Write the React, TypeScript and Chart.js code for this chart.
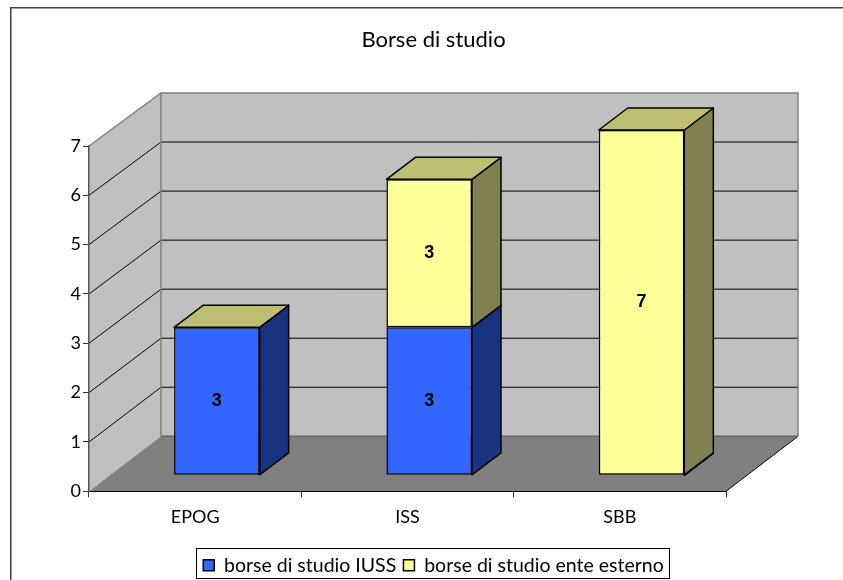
import React, { useEffect, useRef } from "react";
import { Chart, registerables } from "chart.js";

Chart.register(...registerables);

const chartTitle = "Borse di studio";
const categories = ["EPOG", "ISS", "SBB"];
const iussLabel = "borse di studio IUSS";
const esternoLabel = "borse di studio ente esterno";
const iussValues = [3, 3, 0];
const esternoValues = [0, 3, 7];

const FONT = "Lato, 'Noto Sans', sans-serif";
const WALL_DX = 72;
const WALL_DY = -55;
const WALL_SHRINK = 0.9942;
const BAR_SHIFT_X = 21.7;
const BAR_SHIFT_Y = -16;
const BAR_DX = 29;
const BAR_DY = -22;

const faces = [
  { front: "#3366FF", side: "#1A3380", top: "#264DBF" },
  { front: "#FFFF99", side: "#808050", top: "#BFBF73" },
];

function poly(ctx: CanvasRenderingContext2D, pts: number[][], fill: string | null, stroke: string | null, lw = 1) {
  ctx.beginPath();
  pts.forEach((p, i) => (i ? ctx.lineTo(p[0], p[1]) : ctx.moveTo(p[0], p[1])));
  if (fill) {
    ctx.closePath();
    ctx.fillStyle = fill;
    ctx.fill();
  }
  if (stroke) {
    ctx.strokeStyle = stroke;
    ctx.lineWidth = lw;
    ctx.stroke();
  }
}

const scene3d = {
  id: "scene3d",
  beforeDraw(chart: any) {
    const { ctx, chartArea: a, scales } = chart;
    const backY = (y: number) => a.bottom + WALL_DY + (y - a.bottom) * WALL_SHRINK;
    ctx.save();
    ctx.fillStyle = "#ffffff";
    ctx.fillRect(0, 0, chart.width, chart.height);
    // outer frame
    poly(ctx, [[10.75, chart.height], [10.75, 7.75], [chart.width, 7.75]], null, "#404040", 1.5);
    const bl = a.left + WALL_DX;
    const br = a.right + WALL_DX;
    // back wall
    poly(ctx, [[bl, backY(a.top)], [br, backY(a.top)], [br, backY(a.bottom)], [bl, backY(a.bottom)]], "#C0C0C0", null);
    // left wall
    poly(ctx, [[a.left, a.bottom], [a.left, a.top], [bl, backY(a.top)], [bl, backY(a.bottom)]], "#C0C0C0", null);
    // gridlines
    scales.y.ticks.forEach((t: any) => {
      if (t.value === 0 || t.value === scales.y.max) return;
      const y = scales.y.getPixelForValue(t.value);
      poly(ctx, [[a.left, y], [bl, backY(y)], [br, backY(y)]], null, "#000000", 1);
    });
    // wall outlines
    poly(ctx, [[a.left, a.top], [bl, backY(a.top)], [br, backY(a.top)], [br, backY(a.bottom)]], null, "#808080", 1.5);
    poly(ctx, [[bl, backY(a.top)], [bl, backY(a.bottom)]], null, "#808080", 1.5);
    // floor
    poly(ctx, [[a.left, a.bottom], [a.right, a.bottom], [br, backY(a.bottom)], [bl, backY(a.bottom)]], "#808080", null);
    poly(ctx, [[a.right, a.bottom], [br, backY(a.bottom)]], null, "#000000", 1);
    poly(ctx, [[bl, backY(a.bottom)], [br, backY(a.bottom)]], null, "#666666", 1.5);
    ctx.restore();
  },
  beforeDatasetsDraw(chart: any) {
    const { ctx } = chart;
    ctx.save();
    ctx.translate(BAR_SHIFT_X, BAR_SHIFT_Y);
    ctx.lineJoin = "round";
    chart.data.datasets.forEach((_: any, d: number) => {
      chart.getDatasetMeta(d).data.forEach((bar: any) => {
        const l = bar.x - bar.width / 2;
        const r = bar.x + bar.width / 2;
        poly(ctx, [[r, bar.y], [r + BAR_DX, bar.y + BAR_DY], [r + BAR_DX, bar.base + BAR_DY], [r, bar.base]], faces[d].side, "#000000", 1.5);
        if (d === chart.data.datasets.length - 1) {
          poly(ctx, [[l, bar.y], [l + BAR_DX, bar.y + BAR_DY], [r + BAR_DX, bar.y + BAR_DY], [r, bar.y]], faces[d].top, "#000000", 1.5);
        }
      });
    });
  },
  afterDatasetsDraw(chart: any) {
    const { ctx } = chart;
    ctx.fillStyle = "#000000";
    ctx.font = "bold 18px 'Liberation Sans', Arial, sans-serif";
    ctx.textAlign = "center";
    ctx.textBaseline = "middle";
    chart.data.datasets.forEach((ds: any, d: number) => {
      chart.getDatasetMeta(d).data.forEach((bar: any, i: number) => {
        if (ds.data[i]) ctx.fillText(String(ds.data[i]), bar.x, (bar.y + bar.base) / 2);
      });
    });
    ctx.restore();
  },
  afterDraw(chart: any) {
    const boxes = chart.legend && chart.legend.legendHitBoxes;
    if (!boxes || !boxes.length) return;
    const { ctx } = chart;
    const left = Math.min(...boxes.map((b: any) => b.left)) - 7;
    const right = Math.max(...boxes.map((b: any) => b.left + b.width)) + 5;
    const top = chart.legend.top;
    ctx.save();
    ctx.strokeStyle = "#000000";
    ctx.lineWidth = 1;
    ctx.strokeRect(Math.round(left) + 0.5, Math.round(top) + 0.5, Math.round(right - left), 30);
    ctx.restore();
  },
};

export default function App() {
  const ref = useRef<HTMLCanvasElement | null>(null);
  useEffect(() => {
    document.body.style.margin = "0";
    const chart = new Chart(ref.current as HTMLCanvasElement, {
      type: "bar",
      data: {
        labels: categories,
        datasets: [
          { label: iussLabel, data: iussValues, backgroundColor: faces[0].front, borderColor: "#000000", borderWidth: 1.5, borderSkipped: false },
          { label: esternoLabel, data: esternoValues, backgroundColor: faces[1].front, borderColor: "#000000", borderWidth: 1.5, borderSkipped: false },
        ],
      } as any,
      plugins: [scene3d as any],
      options: {
        responsive: false,
        animation: false,
        clip: false,
        layout: { padding: { left: 24, right: 0, top: 0, bottom: -5 } },
        datasets: { bar: { barPercentage: 0.403, categoryPercentage: 1 } },
        scales: {
          x: {
            stacked: true,
            afterFit: (s: any) => { s.height = 57; },
            border: { color: "#000000", width: 1 },
            grid: { drawOnChartArea: false, drawTicks: true, tickLength: 6, tickColor: "#333333" },
            ticks: { color: "#000000", padding: 9, maxRotation: 0, font: { family: FONT, size: 18 } },
          },
          y: {
            stacked: true,
            min: 0,
            max: 7,
            afterFit: (s: any) => { s.width = 65; },
            border: { color: "#555555", width: 1.5 },
            grid: { drawOnChartArea: false, drawTicks: true, tickLength: 6, tickColor: "#333333" },
            ticks: { stepSize: 1, color: "#000000", padding: 2, font: { family: FONT, size: 18 } },
          },
          rightMargin: {
            type: "linear",
            position: "right",
            afterFit: (s: any) => { s.width = 117; },
            border: { display: false },
            grid: { display: false },
            ticks: { display: false },
          },
        },
        plugins: {
          title: {
            display: true,
            text: chartTitle,
            color: "#000000",
            font: { family: FONT, size: 22, weight: "normal" },
            padding: { top: 27, bottom: 92.6 },
          },
          legend: {
            position: "bottom",
            labels: {
              color: "#000000",
              boxWidth: 11,
              boxHeight: 11,
              padding: 7.2,
              font: { family: FONT, size: 19.5, lineHeight: 0.9 },
            },
          },
          tooltip: { enabled: false },
        },
      } as any,
    });
    return () => chart.destroy();
  }, []);
  return <canvas ref={ref} width={843} height={580} style={{ display: "block", width: 843, height: 580 }} />;
}
